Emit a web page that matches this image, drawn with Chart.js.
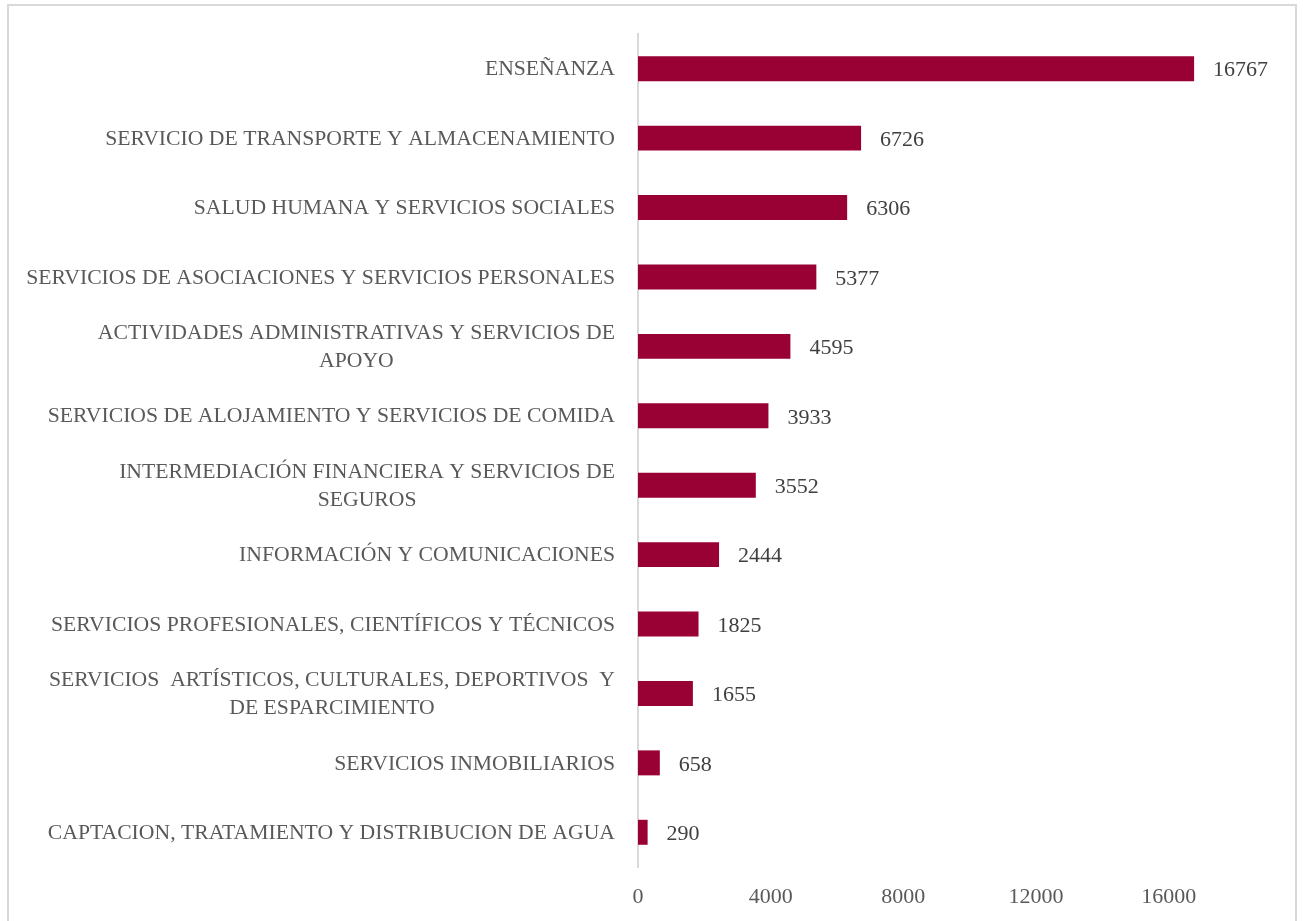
<!DOCTYPE html>
<html lang="es">
<head>
<meta charset="UTF-8" />
<title>Sectores</title>
<script src="https://cdn.jsdelivr.net/npm/chart.js@4"></script>
<style>
  body { margin: 0; background: #fff; }
  canvas { display: block; }
</style>
</head>
<body>
<canvas id="myChart" width="1304" height="921"></canvas>
<script>
const categories = [
    "ENSEÑANZA",
    "SERVICIO DE TRANSPORTE Y ALMACENAMIENTO",
    "SALUD HUMANA Y SERVICIOS SOCIALES",
    "SERVICIOS DE ASOCIACIONES Y SERVICIOS PERSONALES",
    ["ACTIVIDADES ADMINISTRATIVAS Y SERVICIOS DE", "APOYO"],
    "SERVICIOS DE ALOJAMIENTO Y SERVICIOS DE COMIDA",
    ["INTERMEDIACIÓN FINANCIERA Y SERVICIOS DE", "SEGUROS"],
    "INFORMACIÓN Y COMUNICACIONES",
    "SERVICIOS PROFESIONALES, CIENTÍFICOS Y TÉCNICOS",
    ["SERVICIOS  ARTÍSTICOS, CULTURALES, DEPORTIVOS  Y", "DE ESPARCIMIENTO"],
    "SERVICIOS INMOBILIARIOS",
    "CAPTACION, TRATAMIENTO Y DISTRIBUCION DE AGUA"
];
const values = [16767, 6726, 6306, 5377, 4595, 3933, 3552, 2444, 1825, 1655, 658, 290];
const xTicks = [0, 4000, 8000, 12000, 16000];

const FONT = "'Liberation Serif', 'Times New Roman', serif";
const TEXT = "#595959";

// light gray frame around the whole chart
const framePlugin = {
    id: "frame",
    beforeDraw(chart) {
        const ctx = chart.ctx;
        ctx.save();
        ctx.strokeStyle = "#d9d9d9";
        ctx.lineWidth = 2;
        ctx.strokeRect(8, 5, chart.width - 16, chart.height + 20);
        ctx.restore();
    }
};

// category labels: block right aligned, lines centred inside the block
const catLabelsPlugin = {
    id: "catLabels",
    afterDraw(chart) {
        const ctx = chart.ctx;
        const y = chart.scales.y;
        const right = chart.chartArea.left - 23;
        const lh = 28;
        ctx.save();
        ctx.font = "21.7px " + FONT;
        ctx.fillStyle = TEXT;
        ctx.textBaseline = "middle";
        ctx.textAlign = "center";
        categories.forEach((lab, i) => {
            const lines = Array.isArray(lab) ? lab : [lab];
            const w = Math.max(...lines.map(l => ctx.measureText(l).width));
            const cy = y.getPixelForTick(i) + 1;
            const y0 = cy - (lines.length - 1) * lh / 2;
            lines.forEach((l, k) => ctx.fillText(l, right - w / 2, y0 + k * lh));
        });
        ctx.restore();
    }
};

// value labels at the end of each bar
const valueLabelsPlugin = {
    id: "valueLabels",
    afterDatasetsDraw(chart) {
        const ctx = chart.ctx;
        const meta = chart.getDatasetMeta(0);
        ctx.save();
        ctx.font = "22px " + FONT;
        ctx.fillStyle = "#404040";
        ctx.textBaseline = "middle";
        ctx.textAlign = "left";
        meta.data.forEach((bar, i) => {
            ctx.fillText(String(values[i]), bar.x + 19, bar.y + 2);
        });
        ctx.restore();
    }
};

const config = {
    type: "bar",
    data: {
        labels: categories,
        datasets: [{
            data: values,
            backgroundColor: "#990033",
            borderWidth: 0,
            barPercentage: 0.36,
            categoryPercentage: 1
        }]
    },
    options: {
        indexAxis: "y",
        responsive: false,
        animation: false,
        layout: { padding: { top: 34, right: 69, bottom: 0, left: 0 } },
        plugins: {
            legend: { display: false },
            tooltip: { enabled: false }
        },
        scales: {
            x: {
                min: 0,
                max: 18000,
                afterBuildTicks(scale) {
                    scale.ticks = xTicks.map(v => ({ value: v }));
                },
                afterFit(scale) { scale.height = 54; },
                grid: { display: false, drawTicks: false },
                border: { display: false },
                ticks: {
                    color: TEXT,
                    padding: 17,
                    maxRotation: 0,
                    font: { family: FONT, size: 22 },
                    callback: v => String(v)
                }
            },
            y: {
                afterFit(scale) { scale.width = 638; },
                grid: { display: false, drawTicks: false },
                border: { display: true, color: "#d9d9d9", width: 2 },
                ticks: { display: false }
            }
        }
    },
    plugins: [framePlugin, catLabelsPlugin, valueLabelsPlugin]
};

const myChart = new Chart(document.getElementById("myChart"), config);
</script>
</body>
</html>
